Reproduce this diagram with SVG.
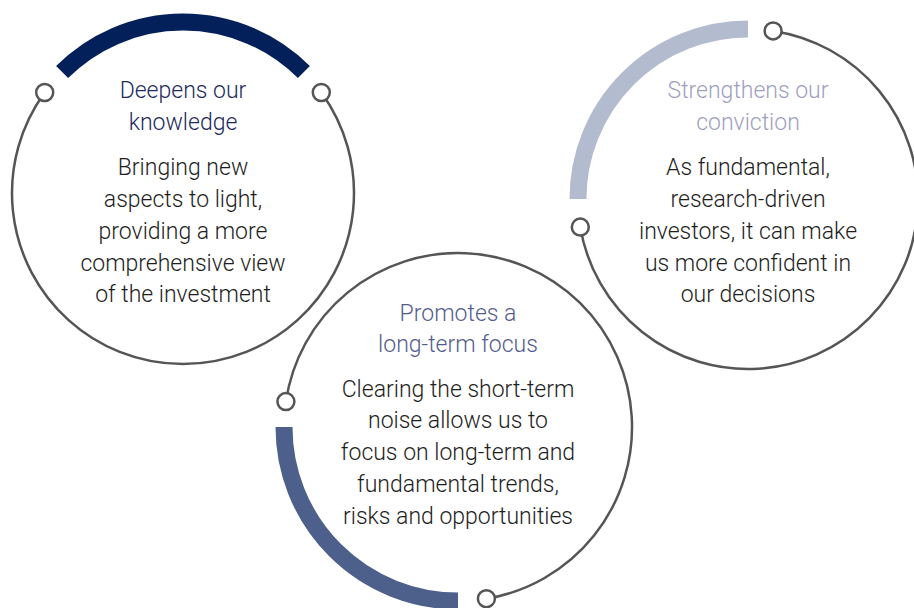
<svg xmlns="http://www.w3.org/2000/svg" width="914" height="608" viewBox="0 0 914 608">
<style>
.ring{fill:none;stroke:#555555;stroke-width:2.5}
.knob{fill:#ffffff;stroke:#555555;stroke-width:2.5}
.band{fill:none;stroke-width:17;stroke-linecap:butt}
text{font-family:Roboto,"Liberation Sans",sans-serif;font-weight:300;font-size:23px;text-anchor:middle}
.body{fill:#1e1e1e}
.t1{fill:#1c2a5e}
.t2{fill:#555d8d}
.t3{fill:#9fa0bf}
</style>
<rect width="914" height="608" fill="#ffffff"/>
<g id="node-knowledge">
<path class="band" stroke="#03205a" d="M62.1,72.1 A171,171 0 0 1 303.9,72.1"/>
<path class="ring" d="M321.3,92.5 A171,171 0 1 1 44.7,92.5"/>
<circle class="knob" cx="44.7" cy="92.5" r="8.5"/>
<circle class="knob" cx="321.3" cy="92.5" r="8.5"/>
<text class="t1" x="183" y="98">Deepens our</text>
<text class="t1" x="183" y="130">knowledge</text>
<text class="body" x="183" y="175">Bringing new</text>
<text class="body" x="183" y="207">aspects to light,</text>
<text class="body" x="183" y="239">providing a more</text>
<text class="body" x="183" y="270.5">comprehensive view</text>
<text class="body" x="183" y="302">of the investment</text>
</g>
<g id="node-conviction">
<path class="band" stroke="#b3bccf" d="M578,199 A170,170 0 0 1 748,29"/>
<path class="ring" d="M773.1,30.9 A170,170 0 1 1 580.3,227.1"/>
<circle class="knob" cx="773.1" cy="30.9" r="8.5"/>
<circle class="knob" cx="580.3" cy="227.1" r="8.5"/>
<text class="t3" x="748" y="98">Strengthens our</text>
<text class="t3" x="748" y="130">conviction</text>
<text class="body" x="748" y="175">As fundamental,</text>
<text class="body" x="748" y="207">research-driven</text>
<text class="body" x="748" y="239">investors, it can make</text>
<text class="body" x="748" y="270.5">us more confident in</text>
<text class="body" x="748" y="302">our decisions</text>
</g>
<g id="node-longterm">
<path class="band" stroke="#4d608b" d="M458,601 A174,174 0 0 1 284,427"/>
<path class="ring" d="M285.9,401.6 A174,174 0 1 1 486.4,598.7"/>
<circle class="knob" cx="285.9" cy="401.6" r="8.5"/>
<circle class="knob" cx="486.4" cy="598.7" r="8.5"/>
<text class="t2" x="458" y="320.5">Promotes a</text>
<text class="t2" x="458" y="352">long-term focus</text>
<text class="body" x="458" y="396.5">Clearing the short-term</text>
<text class="body" x="458" y="428">noise allows us to</text>
<text class="body" x="458" y="460">focus on long-term and</text>
<text class="body" x="458" y="492">fundamental trends,</text>
<text class="body" x="458" y="524">risks and opportunities</text>
</g>
</svg>
